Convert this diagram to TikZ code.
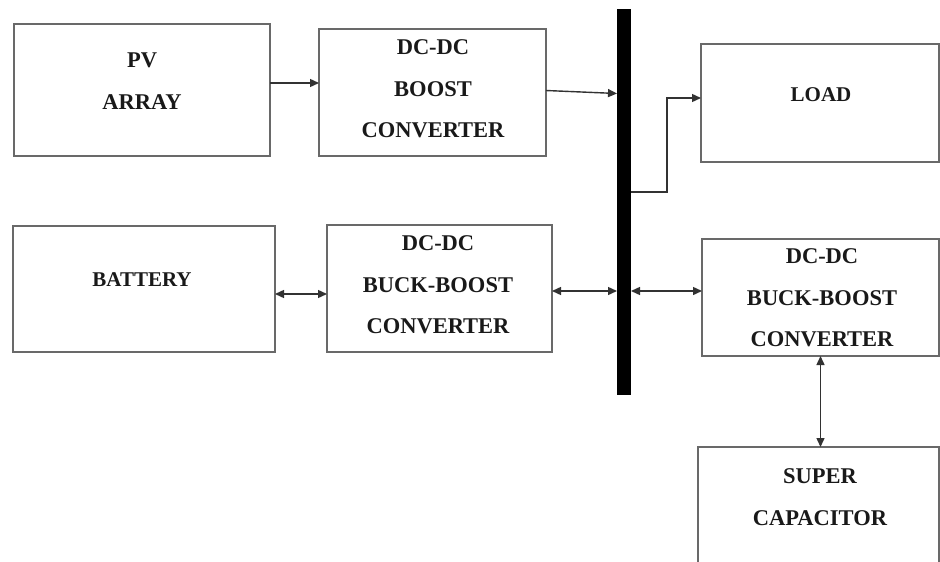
\documentclass[tikz,border=0pt]{standalone}
\usepackage{fontspec}
\setmainfont{Liberation Serif}
\usetikzlibrary{arrows.meta}
\definecolor{edgegray}{RGB}{105,105,105}
\definecolor{wiregray}{RGB}{50,50,50}
\definecolor{inkdark}{RGB}{25,25,25}
\tikzset{
  block/.style={draw=edgegray, line width=2pt, rectangle, inner sep=0pt, outer sep=0pt},
  caption/.style={align=center, text=inkdark, inner sep=0pt,
    font=\fontsize{22.5}{41.5}\selectfont\bfseries},
  smallcaption/.style={caption, font=\fontsize{21}{41.5}\selectfont\bfseries},
  wire/.style={draw=wiregray, line width=1.4pt},
  tip/.style={},
  onearrow/.style={wire, -{Triangle[length=9pt,width=8pt]}},
  twoarrow/.style={wire, {Triangle[length=9pt,width=8pt]}-{Triangle[length=9pt,width=8pt]}},
}
\begin{document}
\begin{tikzpicture}[x=1pt, y=-1pt]
  \useasboundingbox (0,0) rectangle (940,562);
  \clip (0,0) rectangle (940,562);

  % blocks
  \node[block, minimum width=256pt, minimum height=132pt] (pv)       at (142,90)    {};
  \node[block, minimum width=227pt, minimum height=127pt] (boost)    at (432.5,92.5) {};
  \node[block, minimum width=238pt, minimum height=118pt] (load)     at (820,103)   {};
  \node[block, minimum width=262pt, minimum height=126pt] (battery)  at (144,289)   {};
  \node[block, minimum width=225pt, minimum height=127pt] (bbleft)   at (439.5,288.5) {};
  \node[block, minimum width=237pt, minimum height=117pt] (bbright)  at (820.5,297.5) {};
  \node[block, minimum width=241pt, minimum height=130pt] (supercap) at (818.5,512) {};

  % DC bus bar
  \node[fill=black, inner sep=0pt, outer sep=0pt, minimum width=14pt, minimum height=386pt] (bus) at (624,202) {};

  % block captions
  \node[caption]      (pvtxt)       at (142,81)   {PV\\ARRAY};
  \node[caption]      (boosttxt)    at (433,89)   {DC-DC\\BOOST\\CONVERTER};
  \node[smallcaption] (loadtxt)     at (821,95)   {LOAD};
  \node[smallcaption] (batterytxt)  at (142,280)  {BATTERY};
  \node[caption]      (bblefttxt)   at (438,285)  {DC-DC\\BUCK-BOOST\\CONVERTER};
  \node[caption]      (bbrighttxt)  at (822,298)  {DC-DC\\BUCK-BOOST\\CONVERTER};
  \node[caption]      (supercaptxt) at (820,497)  {SUPER\\CAPACITOR};

  % connections
  \draw[onearrow] (pv.east |- 0,83) -- (boost.west |- 0,83);
  \draw[onearrow] ([yshift=2pt]boost.east) -- ([yshift=-1pt]bus.west |- boost.east);
  \coordinate (loadbend) at (667,98);
  \draw[onearrow] (bus.east |- 0,192) -| (loadbend) -- (load.west |- loadbend);
  \draw[twoarrow] (battery.east |- 0,294) -- (bbleft.west |- 0,294);
  \draw[twoarrow] (bbleft.east |- 0,291) -- (bus.west |- 0,291);
  \draw[twoarrow] (bus.east |- 0,291) -- (bbright.west |- 0,291);
  \draw[twoarrow] (bbright.south) -- (supercap.north -| bbright.south);
\end{tikzpicture}
\end{document}
